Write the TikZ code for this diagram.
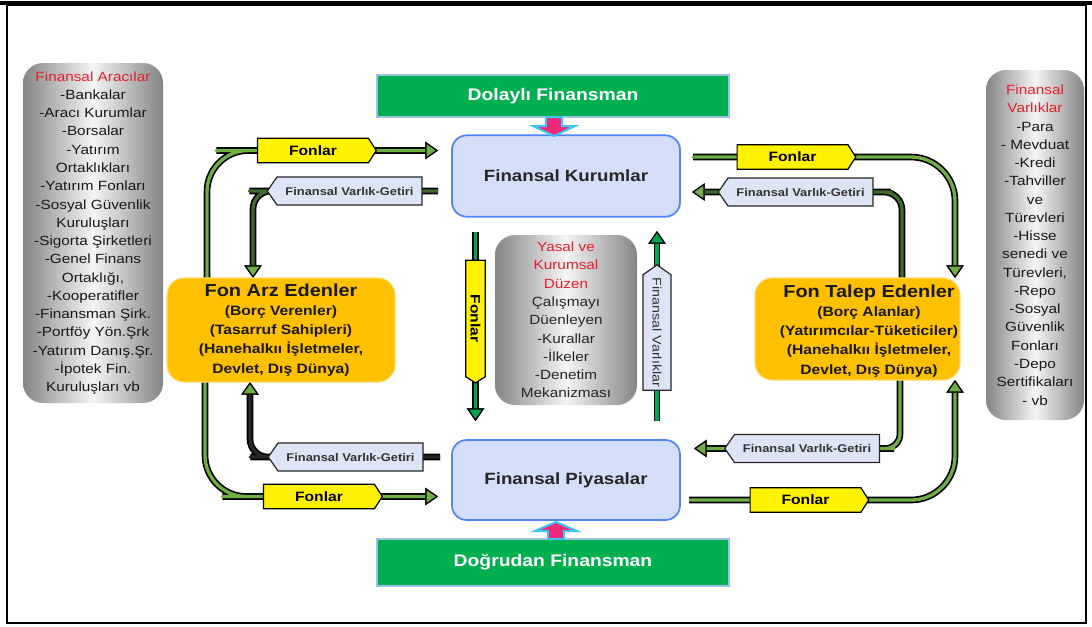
\documentclass[tikz,border=0pt]{standalone}
\usepackage{fontspec}
\setmainfont{Liberation Sans}[FakeStretch=1.15]
\usetikzlibrary{arrows.meta,shapes.symbols,calc,backgrounds}

\definecolor{boxgreen}{HTML}{00B050}
\definecolor{edgeblue}{HTML}{9DC3E6}
\definecolor{pipegreen}{HTML}{70AD47}
\definecolor{pipedark}{HTML}{3E6B2A}
\definecolor{stemgreen}{HTML}{00A650}
\definecolor{instfill}{HTML}{D5DEF8}
\definecolor{instedge}{HTML}{4F86F7}
\definecolor{orangebox}{HTML}{FFC000}
\definecolor{tagblue}{HTML}{DDE4F6}
\definecolor{redtext}{HTML}{E4202A}
\definecolor{pinkarrow}{HTML}{F0287A}
\definecolor{cyanedge}{HTML}{3EC4F2}

\newcommand{\rd}[1]{\textcolor{redtext}{#1}}

\begin{document}
\begin{tikzpicture}[x=0.75pt,y=-0.75pt,
  every node/.style={inner sep=0pt,outer sep=0pt},
  graybox/.style={rounded corners=15pt,left color=black!48,right color=black!48,middle color=black!4,align=center,text=black!90},
  greenbar/.style={fill=boxgreen,draw=edgeblue,line width=0.8pt,text=white,font=\bfseries\fontsize{12.6}{15}\selectfont,minimum width=264pt},
  inst/.style={rounded corners=11pt,fill=instfill,draw=instedge,line width=1.3pt,font=\bfseries\fontsize{12.2}{15}\selectfont,text=black!85,minimum width=171pt,minimum height=61pt},
  actor/.style={rounded corners=13pt,fill=orangebox,draw=orangebox!60!white,line width=0.8pt},
  actortext/.style={align=center,font=\bfseries\fontsize{10.2}{14.3}\selectfont,text=black!90},
  fundtag/.style={signal,signal to=east,signal pointer angle=115,fill=yellow,draw=black,line width=0.9pt,font=\bfseries\fontsize{10.2}{12}\selectfont,minimum width=89pt,minimum height=18.5pt},
  assettag/.style={signal,signal to=west,signal pointer angle=110,fill=tagblue,draw=black!85,line width=0.9pt,font=\bfseries\fontsize{8.4}{10}\selectfont,text=black!80,minimum width=116pt,minimum height=21pt},
  pipe/.style={draw=#1,line width=2.5pt,line join=round,preaction={draw=black,line width=5pt}},
  pipe/.default=pipegreen,
  tipend/.style={-{Triangle[length=9.5pt,width=13pt,line width=0.9pt,color=black,fill=#1]}},
  tipend/.default=pipegreen,
  blockarrow/.style={fill=pinkarrow,draw=cyanedge,line width=1.5pt,line join=miter}
]
\useasboundingbox (0,0) rectangle (1092,626);

% side lists
\node[graybox,minimum width=105pt,minimum height=255pt,font=\fontsize{10}{13.7}\selectfont] (aracilar) at (93,233)
  {\rd{Finansal Aracılar}\\-Bankalar\\-Aracı Kurumlar\\-Borsalar\\-Yatırım\\Ortaklıkları\\-Yatırım Fonları\\-Sosyal Güvenlik\\Kuruluşları\\-Sigorta Şirketleri\\-Genel Finans\\Ortaklığı,\\-Kooperatifler\\-Finansman Şirk.\\-Portföy Yön.Şrk\\-Yatırım Danış.Şr.\\-İpotek Fin.\\Kuruluşları vb};
\node[graybox,minimum width=73.5pt,minimum height=262.5pt,font=\fontsize{10}{13.7}\selectfont] (varliklar) at (1035,245)
  {\rd{Finansal}\\\rd{Varlıklar}\\-Para\\- Mevduat\\-Kredi\\-Tahviller\\ve\\Türevleri\\-Hisse\\senedi ve\\Türevleri,\\-Repo\\-Sosyal\\Güvenlik\\Fonları\\-Depo\\Sertifikaları\\- vb};

% financing bars
\node[greenbar,minimum height=31.5pt] (dolayli) at (553,96) {Dolaylı Finansman};
\node[greenbar,minimum height=35.25pt] (dogrudan) at (553,562.5) {Doğrudan Finansman};

% institutions and markets
\node[inst] (kurumlar) at (566,176) {Finansal Kurumlar};
\node[inst,minimum height=60pt] (piyasalar) at (566,480) {Finansal Piyasalar};

% suppliers and demanders of funds
\node[actor,actortext,minimum width=171pt,minimum height=78pt] (arz) at (281,330)
  {{\fontsize{13}{15}\selectfont Fon Arz Edenler}\\(Borç Verenler)\\(Tasarruf Sahipleri)\\(Hanehalkıı İşletmeler,\\Devlet, Dış Dünya)};
\node[actor,minimum width=153.75pt,minimum height=76.5pt] (talep) at (857.5,329) {};
\node[actortext] (taleptext) at (869,331)
  {{\fontsize{13}{15}\selectfont Fon Talep Edenler}\\(Borç Alanlar)\\(Yatırımcılar-Tüketiciler)\\(Hanehalkıı İşletmeler,\\Devlet, Dış Dünya)};

% legal framework
\node[graybox,minimum width=106.5pt,minimum height=127.5pt,font=\fontsize{10}{13.7}\selectfont,text=black!85] (yasal) at (566,320)
  {\rd{Yasal ve}\\\rd{Kurumsal}\\\rd{Düzen}\\Çalışmayı\\Düenleyen\\-Kurallar\\-İlkeler\\-Denetim\\Mekanizması};

% flow labels
\node[fundtag] (tagA) at (313,150.5) {Fonlar};
\node[assettag] (tagB) at (349.5,191) {Finansal Varlık-Getiri};
\node[fundtag] (tagC) at (792.5,157) {Fonlar};
\node[assettag] (tagD) at (800.5,192) {Finansal Varlık-Getiri};
\node[assettag] (tagF) at (350.5,457) {Finansal Varlık-Getiri};
\node[fundtag] (tagE) at (319,496.5) {Fonlar};
\node[assettag] (tagG) at (807,448.5) {Finansal Varlık-Getiri};
\node[fundtag] (tagH) at (805.5,500) {Fonlar};
\node[fundtag,rotate=-90,minimum width=92pt,minimum height=14.5pt] (tagV1) at (475.5,318.5) {Fonlar};
\node[assettag,rotate=-90,minimum width=94pt,minimum height=21pt,font=\fontsize{9.3}{11}\selectfont] (tagV2) at (657,332.5) {Finansal Varlıklar};

\coordinate (stemFtop) at (475.5,232);
\coordinate (stemFbot) at (475.5,421);
\coordinate (stemVbot) at (657,421);
\coordinate (stemVtop) at (657,231);

\begin{pgfonlayer}{background}
  \fill[white] (0,0) rectangle (1092,626);
  % indirect finance loop
  \draw[pipe,tipend,rounded corners=31pt] ($(arz.north)+(-74,0)$) |- (tagA.west) -- ($(kurumlar.west|-tagA.west)+(-14,0)$);
  \draw[pipe=pipedark,tipend,rounded corners=13.5pt] ($(kurumlar.west|-tagB.east)+(-14,0)$) -- (tagB.west) -| ($(arz.north)+(-28,0)$);
  \draw[pipe,tipend,rounded corners=33pt] ($(kurumlar.east|-tagC.west)+(15,0)$) -- (tagC.west) -- (tagC.east) -| ($(talep.north)+(97.5,0)$);
  \draw[pipe=pipedark,tipend,rounded corners=13.5pt] ($(talep.north)+(44.5,0)$) |- (tagD.east) -- (tagD.west) -- ($(kurumlar.east|-tagD.west)+(12,0)$);
  % direct finance loop
  \draw[pipe,tipend,rounded corners=31pt] ($(arz.south)+(-76,0)$) |- (tagE.west) -- (tagE.east) -- ($(piyasalar.west|-tagE.east)+(-14,0)$);
  \draw[pipe=black!85,tipend,rounded corners=13.5pt] ($(piyasalar.west|-tagF.east)+(-12,0)$) -- (tagF.west) -| ($(arz.south)+(-31,0)$);
  \draw[pipe,tipend,rounded corners=11pt] ($(talep.south)+(42.5,0)$) |- (tagG.east) -- (tagG.west) -- ($(piyasalar.east|-tagG.west)+(14,0)$);
  \draw[pipe,tipend,rounded corners=33pt] ($(piyasalar.east|-tagH.west)+(9,0)$) -- (tagH.west) -- (tagH.east) -| ($(talep.south)+(97.5,0)$);
  % vertical flows between institutions and markets
  \draw[pipe=stemgreen,tipend=stemgreen] (stemFtop) -- (stemFbot);
  \draw[pipe=stemgreen,tipend=stemgreen] (stemVbot) -- (stemVtop);
\end{pgfonlayer}

% block arrows from the financing bars
\begin{scope}[shift={(554,117)}]
  \filldraw[blockarrow] (-8,0) -- (8,0) -- (8,9) -- (21,9) -- (0,19) -- (-21,9) -- (-8,9) -- cycle;
\end{scope}
\begin{scope}[shift={(556,539)}]
  \filldraw[blockarrow] (-8,0) -- (8,0) -- (8,-8) -- (21,-8) -- (0,-17) -- (-21,-8) -- (-8,-8) -- cycle;
\end{scope}

% frame
\draw[line width=1.2pt] (7,5) rectangle (1086,623);
\draw[line width=2.5pt] (0,3) -- (1092,3);
\end{tikzpicture}
\end{document}
